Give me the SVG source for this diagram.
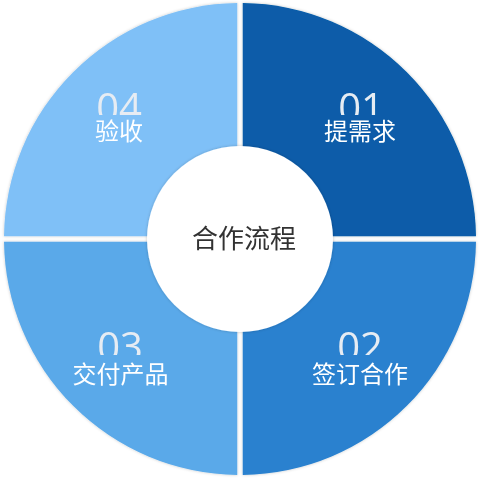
<svg xmlns="http://www.w3.org/2000/svg" width="481" height="481" viewBox="0 0 481 481">
<defs>
<style>
.num{font-family:"Open Sans","Liberation Sans",sans-serif;font-weight:400;font-size:40px;fill:#e6ecf3;text-anchor:middle}
.lbl{font-family:"Noto Sans CJK SC",sans-serif;font-size:24px;fill:#ffffff;text-anchor:middle}
.ctr{font-family:"Noto Sans CJK SC",sans-serif;font-size:26px;fill:#333333;text-anchor:middle}
</style>
<filter id="sh" x="-10%" y="-10%" width="120%" height="120%">
<feGaussianBlur in="SourceAlpha" stdDeviation="1.5"/>
<feOffset dx="0" dy="0" result="b"/>
<feFlood flood-color="#000" flood-opacity="0.22"/>
<feComposite in2="b" operator="in"/>
<feMerge><feMergeNode/><feMergeNode in="SourceGraphic"/></feMerge>
</filter>
<clipPath id="c1"><rect x="300" y="80" width="120" height="35"/></clipPath>
<clipPath id="c4"><rect x="60" y="80" width="120" height="35"/></clipPath>
<clipPath id="c3"><rect x="60" y="320" width="120" height="35"/></clipPath>
<clipPath id="c2"><rect x="300" y="320" width="120" height="35"/></clipPath>
</defs>
<rect width="481" height="481" fill="#ffffff"/>
<g id="q1" filter="url(#sh)">
<path d="M242.75 236.25 V3.02 A236 236 0 0 1 475.98 236.25 Z" fill="#075ca9"/>
<text class="num" x="361" y="121.5" clip-path="url(#c1)">01</text>
<text class="lbl" x="360" y="140">提需求</text>
</g>
<g id="q2" filter="url(#sh)">
<path d="M242.75 241.75 H475.98 A236 236 0 0 1 242.75 474.98 Z" fill="#2981cf"/>
<text class="num" x="360" y="361" clip-path="url(#c2)">02</text>
<text class="lbl" x="360" y="383">签订合作</text>
</g>
<g id="q3" filter="url(#sh)">
<path d="M237.25 241.75 V474.98 A236 236 0 0 1 4.02 241.75 Z" fill="#5aa9e9"/>
<text class="num" x="120" y="361" clip-path="url(#c3)">03</text>
<text class="lbl" x="120.5" y="383">交付产品</text>
</g>
<g id="q4" filter="url(#sh)">
<path d="M237.25 236.25 H4.02 A236 236 0 0 1 237.25 3.02 Z" fill="#7fc0f7"/>
<text class="num" x="119" y="121.5" clip-path="url(#c4)">04</text>
<text class="lbl" x="119" y="140">验收</text>
</g>
<g id="center" filter="url(#sh)">
<circle cx="240" cy="239" r="93" fill="#ffffff"/>
<text class="ctr" x="244" y="248">合作流程</text>
</g>
<g id="connectors"></g>
</svg>
